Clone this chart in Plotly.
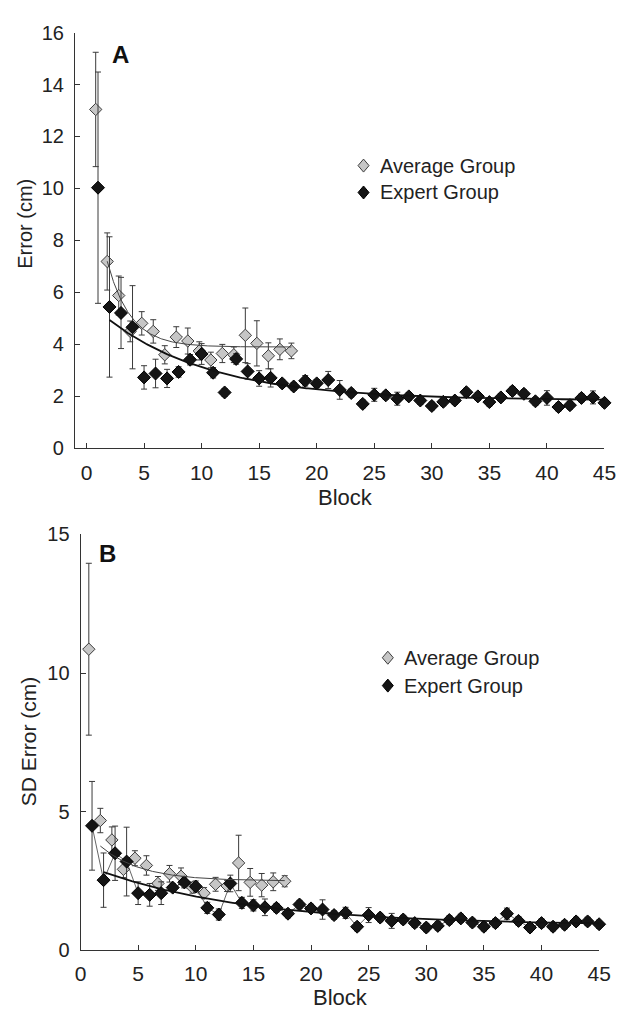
import numpy as np
import plotly.graph_objects as go

# ---- Panel A: mean absolute error per block -------------------------------
blocks_avg = list(range(1, 19))
blocks_exp = list(range(1, 46))

err_avg = [13.04, 7.19, 5.88, 4.50, 4.81, 4.50, 3.60, 4.28, 4.13, 3.75,
           3.40, 3.65, 3.60, 4.35, 4.04, 3.56, 3.81, 3.75]
err_avg_sem = [2.2, 1.1, 0.75, 0.4, 0.45, 0.45, 0.35, 0.4, 0.5, 0.35,
               0.3, 0.35, 0.3, 1.05, 0.87, 0.5, 0.4, 0.3]

err_exp = [10.03, 5.44, 5.21, 4.66, 2.73, 2.88, 2.69, 2.94, 3.41, 3.63,
           2.91, 2.15, 3.44, 2.96, 2.69, 2.71, 2.50, 2.38, 2.60, 2.50,
           2.63, 2.25, 2.13, 1.71, 2.06, 2.04, 1.91, 2.00, 1.84, 1.63,
           1.79, 1.84, 2.16, 2.00, 1.78, 1.96, 2.21, 2.10, 1.81, 1.94,
           1.59, 1.66, 1.94, 1.96, 1.75]
err_exp_sem = [4.45, 2.7, 1.37, 1.6, 0.45, 0.55, 0.35, 0.2, 0.2, 0.4,
               0.2, 0.15, 0.2, 0.3, 0.3, 0.35, 0.15, 0.15, 0.2, 0.15,
               0.33, 0.36, 0.15, 0.15, 0.25, 0.15, 0.25, 0.15, 0.15, 0.15,
               0.15, 0.15, 0.15, 0.15, 0.15, 0.15, 0.15, 0.15, 0.15, 0.28,
               0.15, 0.15, 0.15, 0.25, 0.15]

# ---- Panel B: SD of error per block ---------------------------------------
sd_avg = [10.86, 4.68, 3.98, 2.92, 3.32, 3.06, 2.41, 2.76, 2.67, 2.26,
          2.06, 2.38, 2.32, 3.15, 2.45, 2.35, 2.47, 2.49]
sd_avg_sem = [3.1, 0.44, 0.47, 0.3, 0.27, 0.35, 0.25, 0.3, 0.3, 0.2,
              0.2, 0.25, 0.2, 1.0, 0.5, 0.42, 0.32, 0.2]

sd_exp = [4.49, 2.53, 3.50, 3.20, 2.06, 2.00, 2.06, 2.26, 2.45, 2.30,
          1.53, 1.29, 2.41, 1.71, 1.62, 1.55, 1.53, 1.32, 1.65, 1.51,
          1.47, 1.27, 1.35, 0.85, 1.27, 1.18, 1.06, 1.11, 0.98, 0.82,
          0.88, 1.09, 1.15, 1.00, 0.85, 0.98, 1.32, 1.06, 0.82, 0.98,
          0.85, 0.92, 1.04, 1.04, 0.94]
sd_exp_sem = [1.6, 0.98, 0.98, 1.24, 0.41, 0.41, 0.41, 0.15, 0.2, 0.2,
              0.2, 0.2, 0.3, 0.2, 0.2, 0.3, 0.15, 0.15, 0.15, 0.15,
              0.35, 0.15, 0.2, 0.15, 0.27, 0.15, 0.27, 0.15, 0.15, 0.15,
              0.15, 0.15, 0.15, 0.15, 0.15, 0.15, 0.2, 0.15, 0.15, 0.15,
              0.15, 0.15, 0.15, 0.15, 0.15]

# exponential learning-curve fits: asymptote + amplitude * exp(-(x - start) / tau)
fit_a_avg = dict(start=2.0, end=18.0, asym=3.9, amp=3.3, tau=2.0)
fit_a_exp = dict(start=2.0, end=45.0, asym=1.85, amp=3.09, tau=9.0)
fit_b_avg = dict(start=2.0, end=18.0, asym=2.5, amp=1.26, tau=3.5)
fit_b_exp = dict(start=2.0, end=45.0, asym=0.9, amp=1.92, tau=13.0)

x_ticks = list(range(0, 46, 5))
y_ticks_a = list(range(0, 17, 2))
y_ticks_b = [0, 5, 10, 15]

legend_labels = ["Average Group", "Expert Group"]

# ---- styling --------------------------------------------------------------
W, H = 633, 1019
FONT = "Liberation Sans, Arial, Helvetica, sans-serif"
GREY_FILL = "#c6c6c6"
GREY_EDGE = "#3c3c3c"
BLACK_FILL = "#151515"
BAR_COLOR = "#3a3a3a"
DODGE_A = -0.2   # average group drawn slightly left of the block number
DODGE_B = -0.28


def fit_curve(p, shift=0.0):
    xs = np.linspace(p["start"], p["end"], 300)
    ys = p["asym"] + p["amp"] * np.exp(-(xs - p["start"]) / p["tau"])
    return xs + shift, ys


def marker_style(grey):
    if grey:
        return dict(symbol="diamond", size=9.5, color=GREY_FILL,
                    line=dict(color=GREY_EDGE, width=1))
    return dict(symbol="diamond", size=10, color=BLACK_FILL,
                line=dict(color="#000000", width=1))


def err(arr):
    return dict(type="data", array=arr, color=BAR_COLOR, thickness=1, width=3)


fig = go.Figure()

# Panel A
xa_avg = [b + DODGE_A for b in blocks_avg]
fig.add_trace(go.Scatter(x=xa_avg, y=err_avg, mode="markers", error_y=err(err_avg_sem),
                         marker=marker_style(True), cliponaxis=False,
                         xaxis="x", yaxis="y", showlegend=False))
fig.add_trace(go.Scatter(x=blocks_exp, y=err_exp, mode="markers", error_y=err(err_exp_sem),
                         marker=marker_style(False), cliponaxis=False,
                         xaxis="x", yaxis="y", showlegend=False))
fx, fy = fit_curve(fit_a_avg, DODGE_A)
fig.add_trace(go.Scatter(x=fx, y=fy, mode="lines", line=dict(color="#444444", width=1),
                         xaxis="x", yaxis="y", showlegend=False, hoverinfo="skip"))
fx, fy = fit_curve(fit_a_exp)
fig.add_trace(go.Scatter(x=fx, y=fy, mode="lines", line=dict(color="#111111", width=1.8),
                         xaxis="x", yaxis="y", showlegend=False, hoverinfo="skip"))

# Panel B
xb_avg = [b + DODGE_B for b in blocks_avg]
fig.add_trace(go.Scatter(x=xb_avg, y=sd_avg, mode="markers", error_y=err(sd_avg_sem),
                         marker=marker_style(True), cliponaxis=False,
                         xaxis="x2", yaxis="y2", showlegend=False))
fig.add_trace(go.Scatter(x=blocks_exp, y=sd_exp, mode="lines+markers", error_y=err(sd_exp_sem),
                         line=dict(color="#222222", width=0.7),
                         marker=marker_style(False), cliponaxis=False,
                         xaxis="x2", yaxis="y2", showlegend=False))
fx, fy = fit_curve(fit_b_avg, DODGE_B)
fig.add_trace(go.Scatter(x=fx, y=fy, mode="lines", line=dict(color="#444444", width=1),
                         xaxis="x2", yaxis="y2", showlegend=False, hoverinfo="skip"))
fx, fy = fit_curve(fit_b_exp)
fig.add_trace(go.Scatter(x=fx, y=fy, mode="lines", line=dict(color="#111111", width=1.8),
                         xaxis="x2", yaxis="y2", showlegend=False, hoverinfo="skip"))


def px_x(p):
    return p / W


def px_y(p):
    return 1 - p / H


axis_common = dict(showgrid=False, zeroline=False, showline=True, linecolor="#333333",
                   linewidth=1, ticks="inside", ticklen=5, tickwidth=1, tickcolor="#333333",
                   mirror=False)
x_tickfont = dict(family=FONT, size=21, color="#222222")
y_tickfont = dict(family=FONT, size=20, color="#222222")

fig.update_layout(
    width=W, height=H, margin=dict(l=0, r=0, t=0, b=0),
    paper_bgcolor="white", plot_bgcolor="white", showlegend=False,
    font=dict(family=FONT, color="#222222"),
    xaxis=dict(domain=[px_x(71), px_x(616)], range=[-1, 45], tickvals=x_ticks,
               anchor="y", ticklabelstandoff=5, tickfont=x_tickfont, **axis_common),
    yaxis=dict(domain=[px_y(447), px_y(22)], range=[0, 16], tickvals=y_ticks_a,
               anchor="x", ticklabelstandoff=6, tickfont=y_tickfont, **axis_common),
    xaxis2=dict(domain=[px_x(76.7), px_x(610.5)], range=[0, 45], tickvals=x_ticks,
                anchor="y2", ticklabelstandoff=5, tickfont=x_tickfont, **axis_common),
    yaxis2=dict(domain=[px_y(960), px_y(535)], range=[0, 15], tickvals=y_ticks_b,
                anchor="x2", ticklabelstandoff=6, tickfont=y_tickfont, **axis_common),
)


def label(text, x, y, size, angle=0, xanchor="center"):
    return dict(text=text, x=px_x(x), y=px_y(y), xref="paper", yref="paper",
                xanchor=xanchor, yanchor="middle", showarrow=False, textangle=angle,
                font=dict(family=FONT, size=size, color="#222222"))


annotations = [
    dict(text="<b>A</b>", x=2.94, y=15.15, xref="x", yref="y", showarrow=False,
         xanchor="center", yanchor="middle",
         font=dict(family=FONT, size=24, color="#111111")),
    dict(text="<b>B</b>", x=2.3, y=14.33, xref="x2", yref="y2", showarrow=False,
         xanchor="center", yanchor="middle",
         font=dict(family=FONT, size=24, color="#111111")),
    label("Block", 349, 497, 22),
    label("Block", 344, 1008, 22),
    label("Error (cm)", 20, 217, 20, angle=-90),
    label("SD Error (cm)", 24, 746, 21, angle=-90),
]

shapes = []
legend_rows = [  # (marker x, first row y, row spacing) in pixels, per panel
    (368, 158, 27.5),
    (393, 661, 28.5),
]
for mx, my, dy in legend_rows:
    for i, text in enumerate(legend_labels):
        grey = i == 0
        yy = my + i * dy
        shapes.append(dict(
            type="path", xref="paper", yref="paper", xsizemode="pixel", ysizemode="pixel",
            xanchor=px_x(mx), yanchor=px_y(yy),
            path="M 0 6.5 L 5.5 0 L 0 -6.5 L -5.5 0 Z",
            fillcolor=GREY_FILL if grey else BLACK_FILL,
            line=dict(color=GREY_EDGE if grey else "#000000", width=1),
        ))
        annotations.append(label(text, mx + 15, yy, 20, xanchor="left"))

fig.update_layout(annotations=annotations, shapes=shapes)
fig.write_html("out.html")
